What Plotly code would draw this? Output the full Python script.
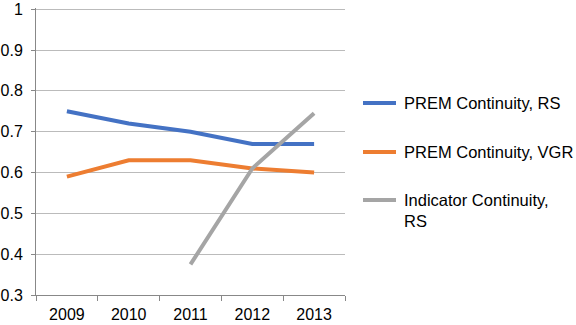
import plotly.graph_objects as go

years = ["2009", "2010", "2011", "2012", "2013"]
prem_rs = [0.75, 0.72, 0.70, 0.67, 0.67]
prem_vgr = [0.59, 0.63, 0.63, 0.61, 0.60]
indicator_rs = [None, None, 0.375, 0.61, 0.745]
names = ["PREM Continuity, RS", "PREM Continuity, VGR", "Indicator Continuity,<br>RS"]
colors = ["#4472C4", "#ED7D31", "#A5A5A5"]
y_ticks = [0.3, 0.4, 0.5, 0.6, 0.7, 0.8, 0.9, 1.0]
y_labels = ["0.3", "0.4", "0.5", "0.6", "0.7", "0.8", "0.9", "1"]

fig = go.Figure()
for vals, name, col in zip([prem_rs, prem_vgr, indicator_rs], names, colors):
    fig.add_trace(go.Scatter(x=years, y=vals, mode="lines", name=name,
                             line=dict(color=col, width=4), showlegend=False))

font = dict(family="Liberation Sans, Arial, sans-serif", size=16, color="#000000")

# manual legend (pixel positions converted to paper coords)
L, R, T, B = 36, 231, 8, 30
W, H = 576, 325
pw, ph = W - L - R, H - T - B
legend_y = [103, 152, 200]
for name, col, yy in zip(names, colors, legend_y):
    yp = (H - B - yy) / ph
    fig.add_shape(type="line", xref="paper", yref="paper",
                  x0=(363 - L) / pw, x1=(396 - L) / pw, y0=yp, y1=yp,
                  line=dict(color=col, width=4))
    fig.add_annotation(text=name, xref="paper", yref="paper",
                       x=(402 - L) / pw, y=(H - B - yy + 11) / ph,
                       xanchor="left", yanchor="top", showarrow=False, align="left",
                       font=dict(font, size=16.5))

fig.update_layout(
    width=W, height=H,
    margin=dict(l=L, r=R, t=T, b=B, autoexpand=False),
    paper_bgcolor="white", plot_bgcolor="white",
    font=font,
)
fig.update_xaxes(type="category", range=[-0.5, 4.5], tickson="boundaries",
                 ticks="outside", ticklen=5, tickcolor="#888888",
                 showline=True, linecolor="#888888", linewidth=1,
                 showgrid=False, tickfont=font, ticklabelstandoff=5,
                 automargin=False)
fig.update_yaxes(range=[0.3, 1.003], tickvals=y_ticks, ticktext=y_labels,
                 ticks="outside", ticklen=4, tickcolor="#888888",
                 showline=True, linecolor="#888888", linewidth=1,
                 showgrid=True, gridcolor="#BBBBBB", gridwidth=1,
                 zeroline=False, tickfont=font, ticklabelstandoff=5,
                 ticklabeloverflow="allow", automargin=False)

fig.write_html("out.html", post_script="document.body.style.margin='0';",
               config={"displayModeBar": False})
